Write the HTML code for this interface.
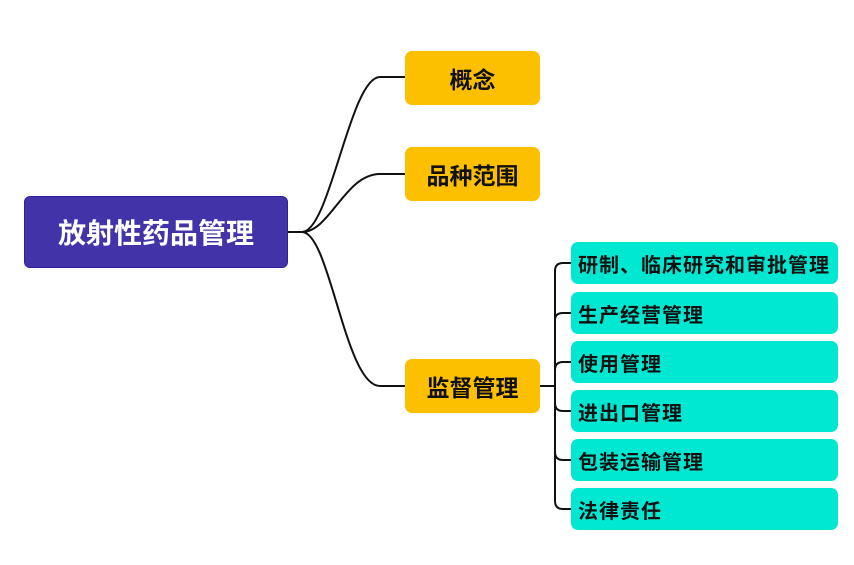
<!DOCTYPE html>
<html><head><meta charset="utf-8"><style>
body{margin:0;width:854px;height:565px;background:#fff;position:relative;overflow:hidden;font-family:"Liberation Sans","Noto Sans CJK SC",sans-serif;font-weight:bold}
.b{position:absolute;box-sizing:border-box;display:flex;align-items:center}
.root{left:24px;top:196px;width:264px;height:72px;background:#4234a8;border:1px solid #3020a0;border-radius:6px;color:#fff;font-size:28px;justify-content:center}
.br{left:405px;width:135px;height:54px;background:#fdc000;border-radius:7px;font-size:23px;color:#111;justify-content:center}
.ch{left:571px;width:267px;height:42px;background:#00e8d2;border-radius:7px;font-size:20px;color:#111;padding-left:7px;letter-spacing:1px}
</style></head><body>
<svg width="854" height="565" style="position:absolute;left:0;top:0" fill="none" stroke="#111" stroke-width="2">
<path d="M288 232 H302 C330 232 350 77 380 77 H405"/>
<path d="M302 232 C330 232 345 174 380 174 H405"/>
<path d="M302 232 C330 232 345 386 380 386 H405"/>
<path d="M540 386 H555"/>
<path d="M571 263 H563 Q555 263 555 271 V501 Q555 509 563 509 H571"/>
<path d="M555 320 Q555 313 563 313 H571"/>
<path d="M555 370 Q555 362 563 362 H571"/>
<path d="M555 403 Q555 411 563 411 H571"/>
<path d="M555 452 Q555 460 563 460 H571"/>
</svg>
<div class="b root">放射性药品管理</div>
<div class="b br" style="top:51px">概念</div>
<div class="b br" style="top:147px">品种范围</div>
<div class="b br" style="top:359px">监督管理</div>
<div class="b ch" style="top:242px">研制、临床研究和审批管理</div>
<div class="b ch" style="top:292px">生产经营管理</div>
<div class="b ch" style="top:341px">使用管理</div>
<div class="b ch" style="top:390px">进出口管理</div>
<div class="b ch" style="top:439px">包装运输管理</div>
<div class="b ch" style="top:488px">法律责任</div>
</body></html>
